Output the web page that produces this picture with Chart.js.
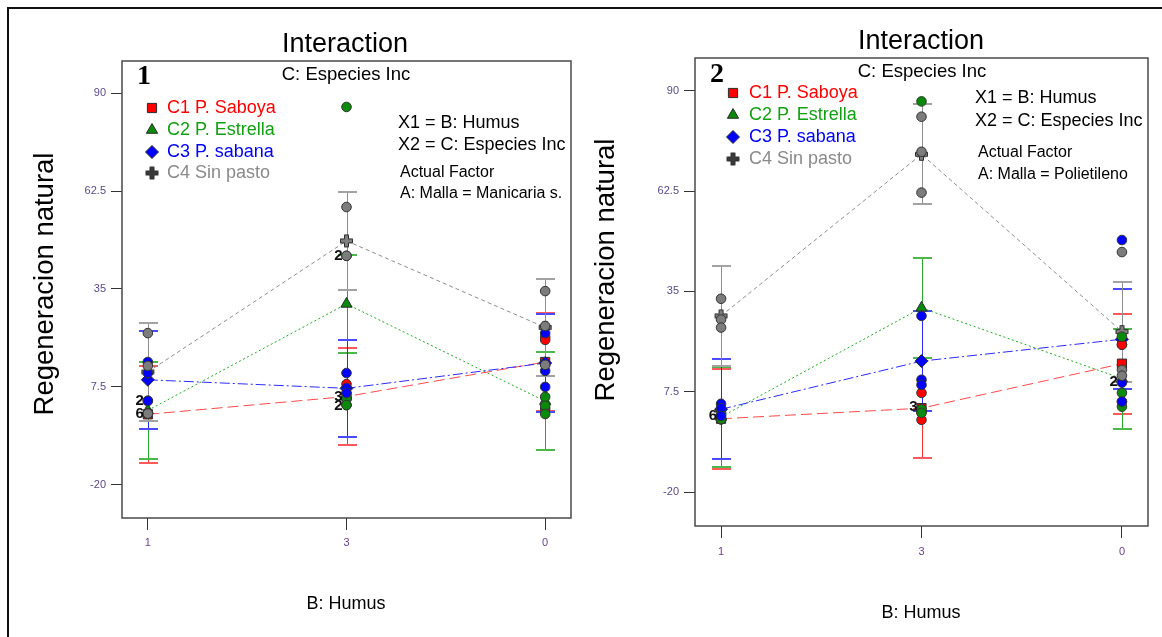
<!DOCTYPE html>
<html>
<head>
<meta charset="utf-8">
<title>Interaction - Regeneracion natural</title>
<script src="https://cdn.jsdelivr.net/npm/chart.js@4.4.0/dist/chart.umd.min.js"></script>
<style>
  body { margin: 0; background: #fff; }
  #page { position: relative; width: 1162px; height: 637px; overflow: hidden; background: #fff; }
  .panel { position: absolute; top: 0; width: 581px; height: 637px; }
  .rule { position: absolute; background: #111; }
</style>
</head>
<body>
<div id="page">
  <div class="panel" style="left:0"><canvas id="chartManicaria" width="581" height="637"></canvas></div>
  <div class="panel" style="left:581px"><canvas id="chartPolietileno" width="581" height="637"></canvas></div>
  <div class="rule" style="left:7px;top:7px;width:1155px;height:2px"></div>
  <div class="rule" style="left:7px;top:7px;width:2px;height:630px"></div>
</div>
<script>
// Niveles del factor B (Humus) y marcas del eje Y
const humusLabels = ["1", "3", "0"]
const yTicks = [-20, 7.5, 35, 62.5, 90]
const seriesNames = ["C1 P. Saboya", "C2 P. Estrella", "C3 P. sabana", "C4 Sin pasto"]

// Panel 1 : Malla = Manicaria s. (medias predichas)
const manicariaSaboya = [-0.2, 4.8, 14.5]
const manicariaEstrella = [0.9, 30.8, 3.5]
const manicariaSabana = [9.5, 7.1, 14.2]
const manicariaSinPasto = [11.7, 48.5, 24.2]
const manicariaLsd = 13.7

// Panel 1 : puntos observados [nivel, valor]
const manicariaSaboyaObs = [[0, 0], [0, 0], [0, 0], [1, 8.3], [1, 4.4], [1, 2.4], [2, 21.5], [2, 20.7], [2, 1.3]]
const manicariaEstrellaObs = [[0, 0], [0, 0], [0, 3.6], [1, 86.1], [1, 4.4], [1, 2.4], [2, 4.7], [2, 2.2], [2, -0.1]]
const manicariaSabanaObs = [[0, 14.5], [0, 11.4], [0, 3.6], [1, 11.4], [1, 7.2], [1, 5.8], [2, 22.6], [2, 12.0], [2, 7.5]]
const manicariaSinPastoObs = [[0, 22.6], [0, 13.4], [0, 0], [1, 58.0], [1, 44.3], [1, 44.3], [2, 34.4], [2, 24.6], [2, 13.7]]
const manicariaCounts = [[0, 3.6, "2"], [0, 0, "6"], [1, 44.3, "2"], [1, 4.6, "3"], [1, 2.2, "2"]]

// Panel 2 : Malla = Polietileno
const polietilenoSaboya = [0.1, 3.0, 15.2]
const polietilenoEstrella = [0.6, 30.5, 11.1]
const polietilenoSabana = [2.7, 15.9, 21.9]
const polietilenoSinPasto = [28.3, 72.6, 24.0]
const polietilenoLsd = 13.7

const polietilenoSaboyaObs = [[0, 0], [0, 0], [0, 0], [1, 7.2], [1, 2.0], [1, -0.2], [2, 20.4], [2, 20.4], [2, 4.8]]
const polietilenoEstrellaObs = [[0, 0], [0, 0], [0, 1.8], [1, 87.1], [1, 2.7], [1, 1.7], [2, 22.6], [2, 7.2], [2, 3.4]]
const polietilenoSabanaObs = [[0, 4.2], [0, 3.0], [0, 0.9], [1, 28.3], [1, 10.8], [1, 9.4], [2, 49.1], [2, 10.0], [2, 4.8]]
const polietilenoSinPastoObs = [[0, 33.0], [0, 27.3], [0, 25.1], [1, 82.9], [1, 73.3], [1, 62.1], [2, 45.8], [2, 13.5], [2, 11.9]]
const polietilenoCounts = [[0, 1.0, "6"], [1, 3.4, "3"], [2, 10.2, "2"]]

const FONT = "'Liberation Sans', Arial, sans-serif"

// Estilos de las series: rojo, verde, azul, gris
const lineColors = ["#ff4a4a", "#22a822", "#2a2aff", "#8c8c8c"]
const barColors = ["#ff3030", "#28a828", "#2a2aff", "#8e8e8e"]
const capColors = ["#ff5a5a", "#4cb84c", "#4a4aff", "#a2a2a2"]
const fillColors = ["#ff0000", "#0a8a0a", "#0000ff", "#7c7c7c"]
const textColors = ["#ff0000", "#12a012", "#0000ff", "#8a8a8a"]
const lineDashes = [[11, 5], [2, 2.5], [10, 3, 2, 3], [4, 3]]

function makePlus(fill) {
  const c = document.createElement("canvas")
  c.width = 15
  c.height = 15
  const g = c.getContext("2d")
  const m = 7.5, L = 6, T = 2
  g.beginPath()
  g.moveTo(m - T, m - L); g.lineTo(m + T, m - L); g.lineTo(m + T, m - T); g.lineTo(m + L, m - T)
  g.lineTo(m + L, m + T); g.lineTo(m + T, m + T); g.lineTo(m + T, m + L); g.lineTo(m - T, m + L)
  g.lineTo(m - T, m + T); g.lineTo(m - L, m + T); g.lineTo(m - L, m - T); g.lineTo(m - T, m - T)
  g.closePath()
  g.fillStyle = fill
  g.fill()
  g.strokeStyle = "#2a2a2a"
  g.lineWidth = 1
  g.stroke()
  return c
}

const plusPlot = makePlus("#808080")
const plusLegend = makePlus("#3a3a3a")
const meanStyles = ["rect", "triangle", "rectRot", plusPlot]
const legendStyles = ["rect", "triangle", "rectRot", plusLegend]

function makePanel(canvasId, p) {
  const datasets = []

  p.obs.forEach((obs, s) => {
    datasets.push({
      type: "scatter",
      data: obs.map(([lvl, v]) => ({ x: lvl, y: v })),
      pointStyle: "circle",
      pointRadius: 4.8,
      backgroundColor: fillColors[s],
      borderColor: "#333",
      borderWidth: 1,
      order: 3 - s,
    })
  })

  p.means.forEach((vals, s) => {
    datasets.push({
      type: "scatter",
      showLine: true,
      data: vals.map((v, i) => ({ x: i, y: v })),
      borderColor: lineColors[s],
      borderDash: lineDashes[s],
      borderWidth: 1,
      pointStyle: meanStyles[s],
      pointRadius: 6.5,
      pointBackgroundColor: fillColors[s],
      pointBorderColor: "#2a2a2a",
      pointBorderWidth: 1,
      order: 10 + (3 - s),
    })
  })

  const decor = {
    id: "decor",
    beforeDatasetsDraw(chart) {
      // Barras LSD
      const ctx = chart.ctx
      const xs = chart.scales.x
      const ys = chart.scales.y
      ctx.save()
      p.means.forEach((vals, s) => {
        vals.forEach((v, i) => {
          const x = Math.round(xs.getPixelForValue(i))
          const top = Math.round(ys.getPixelForValue(v + p.lsd))
          const bot = Math.round(ys.getPixelForValue(v - p.lsd))
          ctx.strokeStyle = barColors[s]
          ctx.lineWidth = 1
          ctx.beginPath()
          ctx.moveTo(x + 0.5, top); ctx.lineTo(x + 0.5, bot)
          ctx.stroke()
          ctx.strokeStyle = capColors[s]
          ctx.lineWidth = 2
          ctx.beginPath()
          ctx.moveTo(x - 9, top); ctx.lineTo(x + 10, top)
          ctx.moveTo(x - 9, bot); ctx.lineTo(x + 10, bot)
          ctx.stroke()
        })
      })
      ctx.restore()
    },
    afterDraw(chart) {
      const ctx = chart.ctx
      const area = chart.chartArea
      const xs = chart.scales.x
      const ys = chart.scales.y
      ctx.save()

      // Marco del gráfico
      ctx.strokeStyle = "#4a4a4a"
      ctx.lineWidth = 1.5
      ctx.strokeRect(area.left, area.top, area.right - area.left, area.bottom - area.top)

      ctx.textBaseline = "middle"
      ctx.fillStyle = "#000"

      // Títulos
      ctx.textAlign = "center"
      ctx.font = "27px " + FONT
      ctx.fillText("Interaction", p.titleX, p.titleY)
      ctx.font = "18.5px " + FONT
      ctx.fillText("C: Especies Inc", p.subX, p.subY)
      ctx.font = "18px " + FONT
      ctx.fillText("B: Humus", p.xTitleX, p.xTitleY)

      ctx.font = "bold 28px 'Liberation Serif', 'Times New Roman', serif"
      ctx.fillText(p.number, p.numX, p.numY)

      ctx.save()
      ctx.translate(p.yTitleX, p.yTitleY)
      ctx.rotate(-Math.PI / 2)
      ctx.font = "27.5px " + FONT
      ctx.fillText("Regeneracion natural", 0, 0)
      ctx.restore()

      // Leyenda
      ctx.textAlign = "left"
      ctx.font = "18px " + FONT
      seriesNames.forEach((name, s) => {
        const y = p.legendRows[s]
        const st = legendStyles[s]
        if (typeof st === "string") {
          ctx.fillStyle = fillColors[s]
          ctx.strokeStyle = "#2a2a2a"
          ctx.lineWidth = 1
          Chart.helpers.drawPoint(ctx, { pointStyle: st, radius: 6.5, rotation: 0, borderWidth: 1 }, p.legendX, y)
        } else {
          ctx.drawImage(st, p.legendX - 7.5, y - 7.5)
        }
        ctx.fillStyle = textColors[s]
        ctx.fillText(name, p.legendTextX, y)
      })

      // Bloque de factores
      ctx.fillStyle = "#000"
      ctx.fillText("X1 = B: Humus", p.blockX, p.blockRows[0])
      ctx.fillText("X2 = C: Especies Inc", p.blockX, p.blockRows[1])
      ctx.font = "16px " + FONT
      ctx.fillText("Actual Factor", p.blockX2, p.blockRows[2])
      ctx.fillText(p.factor, p.blockX2, p.blockRows[3])

      // Número de puntos superpuestos
      ctx.textAlign = "right"
      ctx.font = "bold 15px " + FONT
      ctx.fillStyle = "#111"
      p.counts.forEach(([lvl, v, t]) => {
        ctx.fillText(t, xs.getPixelForValue(lvl) - 4, ys.getPixelForValue(v))
      })

      ctx.restore()
    },
  }

  new Chart(document.getElementById(canvasId), {
    type: "scatter",
    data: { datasets },
    options: {
      responsive: false,
      animation: false,
      devicePixelRatio: 1,
      layout: { padding: { top: p.top, right: 581 - p.right, left: 0, bottom: 0 } },
      plugins: { legend: { display: false }, tooltip: { enabled: false } },
      scales: {
        x: {
          type: "linear",
          min: -0.13,
          max: 2.13,
          afterBuildTicks: (scale) => {
            scale.ticks = humusLabels.map((_, i) => ({ value: i }))
          },
          afterFit: (scale) => {
            scale.height = 637 - p.bottom
          },
          ticks: {
            callback: (value) => humusLabels[value],
            color: "#6a3f8c",
            font: { family: FONT, size: 11 },
            padding: p.xTickPad,
            maxRotation: 0,
          },
          grid: { drawOnChartArea: false, drawTicks: true, tickLength: 12, color: "#333" },
          border: { display: false },
        },
        y: {
          min: -29.3,
          max: 99,
          afterBuildTicks: (scale) => {
            scale.ticks = yTicks.map((v) => ({ value: v }))
          },
          afterFit: (scale) => {
            scale.width = p.left
          },
          ticks: {
            callback: (value) => String(value),
            color: "#5a4a88",
            font: { family: FONT, size: 11 },
            padding: 5,
          },
          grid: { drawOnChartArea: false, drawTicks: true, tickLength: 11, color: "#333" },
          border: { display: false },
        },
      },
    },
    plugins: [decor],
  })
}

makePanel("chartManicaria", {
  means: [manicariaSaboya, manicariaEstrella, manicariaSabana, manicariaSinPasto],
  obs: [manicariaSaboyaObs, manicariaEstrellaObs, manicariaSabanaObs, manicariaSinPastoObs],
  counts: manicariaCounts,
  lsd: manicariaLsd,
  factor: "A: Malla = Manicaria s.",
  number: "1",
  top: 61, bottom: 518, left: 122, right: 571, xTickPad: 6,
  titleX: 345, titleY: 45,
  subX: 346, subY: 75,
  numX: 144, numY: 77,
  legendX: 152, legendTextX: 167, legendRows: [108, 130, 152, 173],
  blockX: 398, blockX2: 400, blockRows: [123, 145, 173, 194],
  yTitleX: 45, yTitleY: 284,
  xTitleX: 346, xTitleY: 604,
})

makePanel("chartPolietileno", {
  means: [polietilenoSaboya, polietilenoEstrella, polietilenoSabana, polietilenoSinPasto],
  obs: [polietilenoSaboyaObs, polietilenoEstrellaObs, polietilenoSabanaObs, polietilenoSinPastoObs],
  counts: polietilenoCounts,
  lsd: polietilenoLsd,
  factor: "A: Malla = Polietileno",
  number: "2",
  top: 58, bottom: 526, left: 114, right: 567, xTickPad: 7,
  titleX: 340, titleY: 42,
  subX: 341, subY: 72,
  numX: 136, numY: 75,
  legendX: 152, legendTextX: 168, legendRows: [93, 115, 137, 159],
  blockX: 394, blockX2: 397, blockRows: [98, 121, 153, 175],
  yTitleX: 25, yTitleY: 270,
  xTitleX: 340, xTitleY: 613,
})
</script>
</body>
</html>
